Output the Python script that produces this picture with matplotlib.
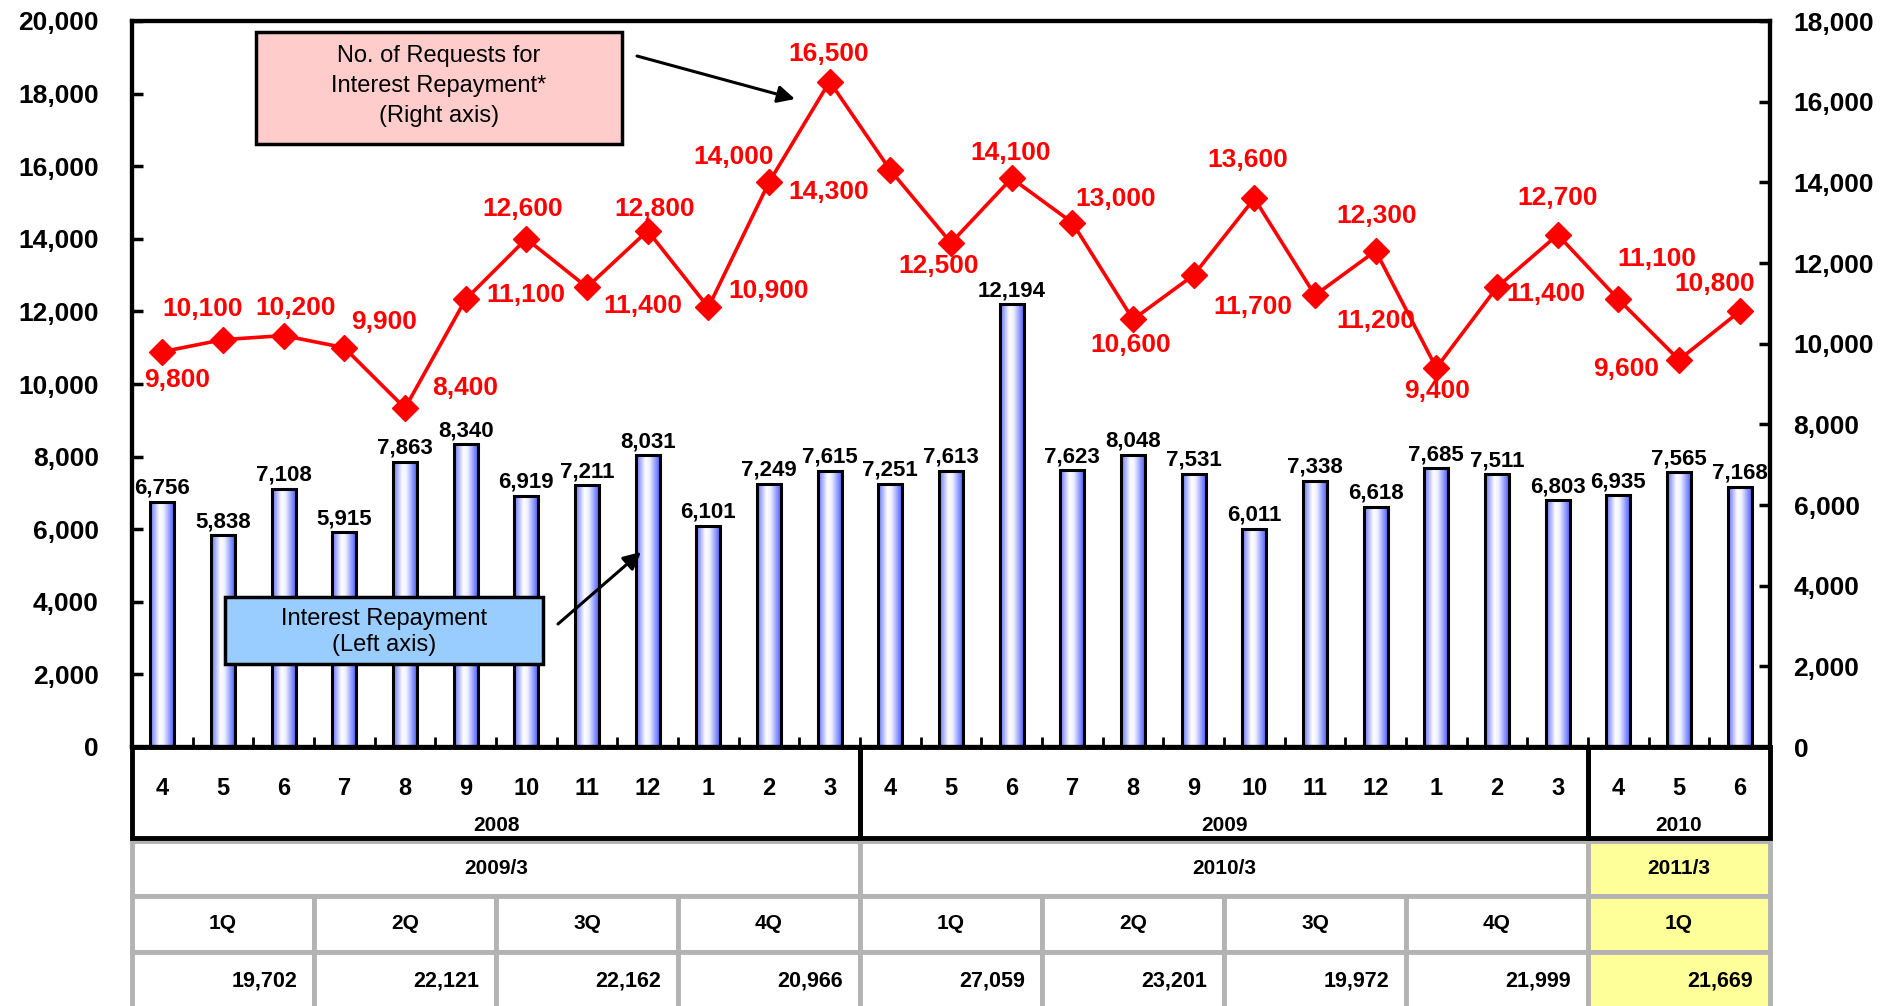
import numpy as np
import matplotlib.pyplot as plt
from matplotlib.patches import Rectangle
from matplotlib.colors import LinearSegmentedColormap
from matplotlib.ticker import FuncFormatter, MultipleLocator

plt.rcParams['font.family'] = ['Liberation Sans', 'DejaVu Sans']

# monthly data, Apr 2008 - Jun 2010
months = ['4', '5', '6', '7', '8', '9', '10', '11', '12', '1', '2', '3',
          '4', '5', '6', '7', '8', '9', '10', '11', '12', '1', '2', '3',
          '4', '5', '6']
years = ['2008', '2009', '2010']
year_spans = [(0, 12), (12, 24), (24, 27)]
fiscal_years = ['2009/3', '2010/3', '2011/3']
quarters = ['1Q', '2Q', '3Q', '4Q', '1Q', '2Q', '3Q', '4Q', '1Q']
quarter_totals = [19702, 22121, 22162, 20966, 27059, 23201, 19972, 21999, 21669]

repayments = [6756, 5838, 7108, 5915, 7863, 8340, 6919, 7211, 8031, 6101, 7249, 7615,
              7251, 7613, 12194, 7623, 8048, 7531, 6011, 7338, 6618, 7685, 7511, 6803,
              6935, 7565, 7168]
requests = [9800, 10100, 10200, 9900, 8400, 11100, 12600, 11400, 12800, 10900, 14000, 16500,
            14300, 12500, 14100, 13000, 10600, 11700, 13600, 11200, 12300, 9400, 11400, 12700,
            11100, 9600, 10800]

# where each red label sits relative to its marker (pixels)
req_label_offsets = [(15, -28), (-20, 31), (12, 28), (40, 26), (60, 20), (60, 4),
                     (-4, 30), (56, -19), (7, 22), (60, 16), (-35, 25), (-1, 28),
                     (-62, -22), (-12, -23), (-1, 25), (43, 24), (-2, -26), (59, -32),
                     (-7, 38), (61, -26), (1, 35), (1, -23), (49, -7), (0, 37),
                     (39, 40), (-53, -9), (-25, 27)]

W, H = 1885, 1006
L, R, T, B = 132, 1770, 21, 747
RED = '#ff0000'
GRID = '#b3b3b3'

fig = plt.figure(figsize=(W / 100, H / 100), dpi=100)
ax = fig.add_axes([L / W, 1 - B / H, (R - L) / W, (B - T) / H])
x = np.arange(len(months))

# bars with a horizontal blue-white-blue shading
cmap = LinearSegmentedColormap.from_list(
    'barshade', [(0, '#6272ff'), (0.38, '#ffffff'), (0.55, '#eef0ff'), (1, '#3f50ff')])
grad = np.linspace(0, 1, 64).reshape(1, -1)
bars = ax.bar(x, repayments, width=0.4, facecolor='none', edgecolor='black',
              linewidth=2.2, zorder=3)
for b in bars:
    x0, w, h = b.get_x(), b.get_width(), b.get_height()
    im = ax.imshow(grad, cmap=cmap, extent=(x0, x0 + w, 0, h), aspect='auto',
                   interpolation='bilinear', zorder=2)
    im.set_clip_path(b)
for xi, v in zip(x, repayments):
    ax.annotate(f'{v:,}', (xi, v), xytext=(0, 3), textcoords='offset pixels',
                ha='center', va='bottom', fontsize=16, fontweight='bold', zorder=4)

ax.set_xlim(-0.5, len(months) - 0.5)
ax.set_ylim(0, 20000)
ax.yaxis.set_major_locator(MultipleLocator(2000))
ax.yaxis.set_major_formatter(FuncFormatter(lambda v, p: f'{int(v):,}'))
ax.set_xticks(x[:-1] + 0.5)
ax.set_xticklabels([])
ax.tick_params(axis='x', direction='in', length=7, width=2)
ax.tick_params(axis='y', direction='in', length=8, width=2.5, pad=24,
               labelsize=19)
for lab in ax.get_yticklabels():
    lab.set_fontweight('bold')
for s in ax.spines.values():
    s.set_linewidth(3)

# requests line on the right axis
ax2 = ax.twinx()
ax2.plot(x, requests, color=RED, linewidth=2.6, marker='D', markersize=13,
         markeredgecolor=RED, zorder=5)
for xi, v, (dx, dy) in zip(x, requests, req_label_offsets):
    ax2.annotate(f'{v:,}', (xi, v), xytext=(dx, dy), textcoords='offset pixels',
                 ha='center', va='center', fontsize=19, fontweight='bold', color=RED)
ax2.set_ylim(0, 18000)
ax2.yaxis.set_major_locator(MultipleLocator(2000))
ax2.yaxis.set_major_formatter(FuncFormatter(lambda v, p: f'{int(v):,}'))
ax2.tick_params(axis='y', direction='in', length=8, width=2.5, pad=17, labelsize=19)
for lab in ax2.get_yticklabels():
    lab.set_fontweight('bold')
for s in ax2.spines.values():
    s.set_linewidth(3)

# month / year header and fiscal-quarter table under the plot
tab = fig.add_axes([L / W, 0, (R - L) / W, (H - B) / H])
tab.set_xlim(-0.5, len(months) - 0.5)
tab.set_ylim(H, B)
tab.axis('off')
xl, xr = -0.53, len(months) - 0.38

for xi, m in zip(x, months):
    tab.text(xi, 789, m, ha='center', va='center', fontsize=17, fontweight='bold')
for (a, b), yr in zip(year_spans, years):
    x0 = max(a - 0.5, xl)
    x1 = min(b - 0.5, xr)
    tab.add_patch(Rectangle((x0, 747), x1 - x0, 91, fill=False, edgecolor='black',
                            linewidth=3.5, clip_on=False, zorder=3))
    tab.text((a + b - 1) / 2, 826, yr, ha='center', va='center', fontsize=15,
             fontweight='bold')

rows = [(841, 896), (896, 952), (952, 1010)]
for i, ((a, b), fy) in enumerate(zip(year_spans, fiscal_years)):
    x0 = max(a - 0.5, xl)
    x1 = min(b - 0.5, xr)
    face = '#ffff99' if i == len(fiscal_years) - 1 else 'white'
    tab.add_patch(Rectangle((x0, rows[0][0]), x1 - x0, rows[0][1] - rows[0][0],
                            facecolor=face, edgecolor=GRID, linewidth=3.5, clip_on=False))
    tab.text((a + b - 1) / 2, 869, fy, ha='center', va='center', fontsize=15,
             fontweight='bold')
for j, (q, tot) in enumerate(zip(quarters, quarter_totals)):
    a, b = 3 * j, 3 * j + 3
    x0 = max(a - 0.5, xl)
    x1 = min(b - 0.5, xr)
    face = '#ffff99' if j == len(quarters) - 1 else 'white'
    for (y0, y1) in rows[1:]:
        tab.add_patch(Rectangle((x0, y0), x1 - x0, y1 - y0, facecolor=face,
                                edgecolor=GRID, linewidth=3.5, clip_on=False))
    tab.text((a + b - 1) / 2, 924, q, ha='center', va='center', fontsize=15,
             fontweight='bold')
    tab.text(b - 0.5 - 0.28, 981, f'{tot:,}', ha='right', va='center', fontsize=15.5,
             fontweight='bold')

# callout boxes
ov = fig.add_axes([0, 0, 1, 1])
ov.set_xlim(0, W)
ov.set_ylim(H, 0)
ov.axis('off')
ov.add_patch(Rectangle((256, 32), 366, 112, facecolor='#ffcccc', edgecolor='black',
                       linewidth=2.5))
ov.text(439, 86, 'No. of Requests for\nInterest Repayment*\n(Right axis)',
        ha='center', va='center', fontsize=17, linespacing=1.45)
ov.annotate('', xy=(795, 99), xytext=(637, 56),
            arrowprops=dict(arrowstyle='-|>', color='black', lw=2.2, mutation_scale=26,
                            shrinkA=0, shrinkB=0))
ov.add_patch(Rectangle((225, 597), 318, 67, facecolor='#99ccff', edgecolor='black',
                       linewidth=2.5))
ov.text(384, 632, 'Interest Repayment\n(Left axis)', ha='center', va='center',
        fontsize=17, linespacing=1.2)
ov.annotate('', xy=(641, 552), xytext=(558, 624),
            arrowprops=dict(arrowstyle='-|>', color='black', lw=2.2, mutation_scale=26,
                            shrinkA=0, shrinkB=0))

fig.savefig('out.png', dpi=100)
